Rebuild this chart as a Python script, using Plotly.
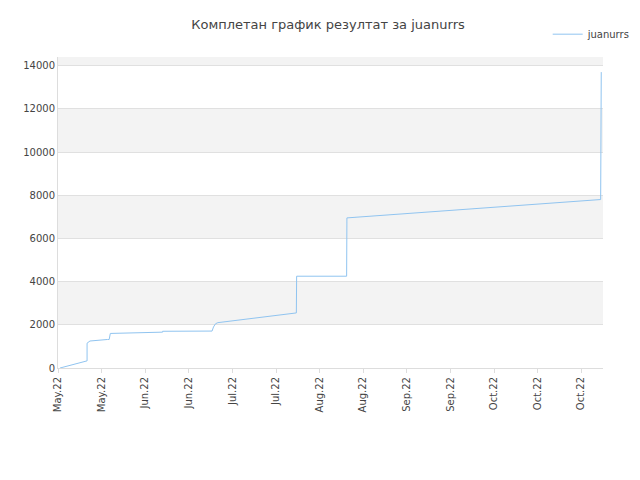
import plotly.graph_objects as go

days = [0.7, 10, 10, 11, 17, 17.6, 18, 24.5, 24.5, 36, 36, 53, 53.5, 54.2, 55, 82, 82.1, 99.3, 99.4, 186.7, 186.9]
scores = [0, 330, 1150, 1250, 1320, 1320, 1600, 1620, 1650, 1660, 1700, 1710, 1900, 2050, 2100, 2550, 4250, 4250, 6950, 7800, 13700]
tickvals = list(range(0, 181, 15))
ticktext = ["May.22", "May.22", "Jun.22", "Jun.22", "Jul.22", "Jul.22", "Aug.22", "Aug.22",
            "Sep.22", "Sep.22", "Oct.22", "Oct.22", "Oct.22"]

fig = go.Figure(go.Scatter(x=days, y=scores, mode="lines",
                           line=dict(color="#90c4f0", width=1), name="juanurrs"))
shapes = []
for y0, y1 in [(2000, 4000), (6000, 8000), (10000, 12000), (14000, 14400)]:
    shapes.append(dict(type="rect", xref="paper", x0=0, x1=1, yref="y", y0=y0, y1=y1,
                       fillcolor="#f3f3f3", line_width=0, layer="below"))
fig.update_layout(
    width=640, height=480, paper_bgcolor="white", plot_bgcolor="white",
    margin=dict(l=50, r=40, t=40, b=120), shapes=shapes,
    title=dict(text="Комплетан график резултат за juanurrs", x=0.5, y=0.975,
               font=dict(family="DejaVu Sans", size=13, color="#444")),
    font=dict(family="DejaVu Sans", size=10, color="#444"),
    showlegend=True,
    legend=dict(x=1.06, y=1.12, xanchor="right", yanchor="top", font=dict(size=10)),
    xaxis=dict(range=[0, 187.5], tickvals=tickvals, ticktext=ticktext, tickangle=-90,
               showgrid=False, zeroline=False, showline=True, linecolor="#ddd",
               ticks="outside", ticklen=4, tickcolor="#ddd", automargin=False),
    yaxis=dict(range=[0, 14400], tickvals=list(range(0, 14001, 2000)), tickformat="d",
               showgrid=True, gridcolor="#e0e0e0", zeroline=False, showline=True,
               linecolor="#ddd", automargin=False),
)
fig.write_html("out.html")
